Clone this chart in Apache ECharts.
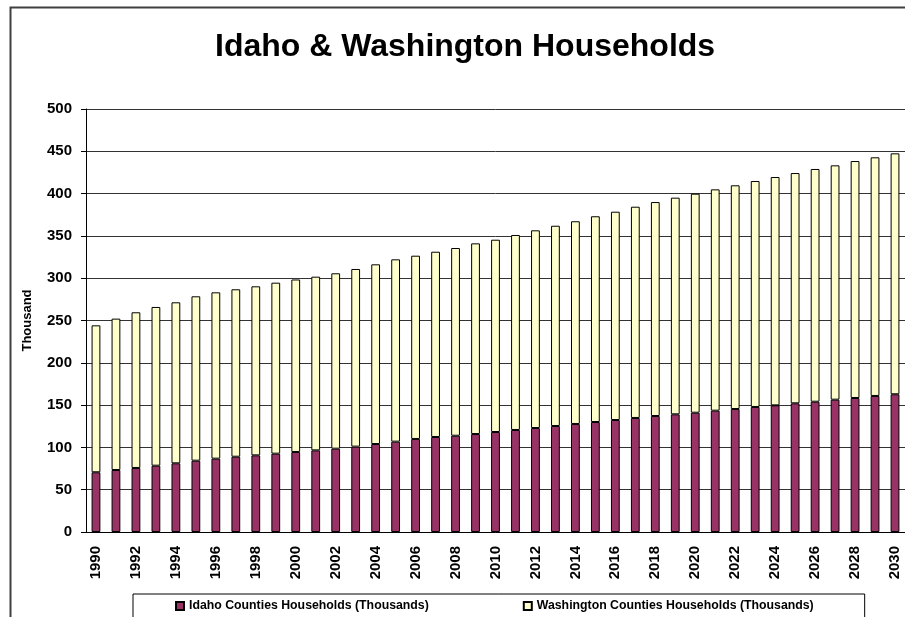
<!DOCTYPE html>
<html>
<head>
<meta charset="utf-8">
<title>Idaho & Washington Households</title>
<script src="https://cdn.jsdelivr.net/npm/echarts@6/dist/echarts.min.js"></script>
<style>
  html, body { margin: 0; padding: 0; background: #fff; }
  #main { width: 905px; height: 617px; }
</style>
</head>
<body>
<div id="main"></div>
<script>
// years on the x axis
const years = [];
for (let y = 1990; y <= 2030; y++) years.push(String(y));

// Idaho counties households, thousands
const idaho = [
  70.6, 73.3, 75.7, 78.4, 81.2, 84.3, 86.7, 89.0, 90.6, 92.6,
  94.6, 96.5, 98.5, 100.9, 104.0, 106.8, 110.0, 112.3, 113.8, 115.8,
  118.2, 120.6, 122.9, 125.3, 127.7, 130.0, 132.4, 134.8, 137.1, 139.1,
  141.0, 143.4, 145.4, 147.8, 149.7, 152.1, 154.0, 156.4, 158.4, 160.8,
  162.8
];

// Washington counties households, thousands (stacked on top of Idaho)
const washington = [
  173.7, 178.9, 184.0, 187.6, 190.3, 194.3, 196.6, 197.9, 199.8, 202.1,
  203.9, 205.3, 207.3, 210.0, 212.4, 215.5, 216.6, 219.0, 221.9, 225.4,
  227.3, 230.5, 233.7, 236.7, 239.6, 243.2, 246.2, 249.7, 252.9, 256.1,
  258.9, 261.6, 264.4, 267.1, 269.9, 272.2, 275.1, 277.0, 280.1, 282.1,
  284.8
];

const font = '"Liberation Sans", Arial, sans-serif';

const chart = echarts.init(document.getElementById('main'));

const option = {
  backgroundColor: '#fff',
  animation: false,
  textStyle: { fontFamily: font },
  title: {
    text: 'Idaho & Washington Households',
    left: 215,
    top: 31,
    padding: 0,
    textStyle: { fontFamily: font, fontSize: 32, fontWeight: 'bold', color: '#000' }
  },
  graphic: [
    {
      // outer chart frame
      type: 'rect',
      left: 8, top: 5,
      shape: { width: 1000, height: 700 },
      style: { fill: null, stroke: '#404040', lineWidth: 2 },
      silent: true
    }
  ],
  legend: {
    left: 133,
    top: 594,
    padding: [6, 51, 8, 42],
    icon: 'rect',
    itemWidth: 8,
    itemHeight: 8,
    itemGap: 94,
    borderColor: '#000',
    borderWidth: 1,
    textStyle: { fontFamily: font, fontSize: 12.3, fontWeight: 'bold', color: '#000' },
    data: [
      'Idaho Counties Households (Thousands)',
      'Washington Counties Households (Thousands)'
    ]
  },
  grid: { left: 86, right: -1, top: 109, bottom: 85 },
  xAxis: {
    type: 'category',
    data: years,
    axisLine: { lineStyle: { color: '#000', width: 1 } },
    axisTick: { interval: 0, length: 5, lineStyle: { color: '#000' } },
    axisLabel: {
      interval: 1,
      rotate: 90,
      margin: 14,
      fontFamily: font,
      fontSize: 15,
      fontWeight: 'bold',
      color: '#000'
    }
  },
  yAxis: {
    type: 'value',
    min: 0,
    max: 500,
    interval: 50,
    name: 'Thousand',
    nameLocation: 'middle',
    nameGap: 52,
    nameTextStyle: { fontFamily: font, fontSize: 13, fontWeight: 'bold', color: '#000' },
    axisLine: { show: true, lineStyle: { color: '#000', width: 1 } },
    axisTick: { show: true, length: 5, lineStyle: { color: '#000' } },
    axisLabel: { margin: 14, fontFamily: font, fontSize: 15, fontWeight: 'bold', color: '#000' },
    splitLine: { show: true, lineStyle: { color: '#333', width: 1 } }
  },
  series: [
    {
      name: 'Idaho Counties Households (Thousands)',
      type: 'bar',
      stack: 'households',
      barWidth: '44%',
      data: idaho,
      itemStyle: { color: '#993366', borderColor: '#000', borderWidth: 1 }
    },
    {
      name: 'Washington Counties Households (Thousands)',
      type: 'bar',
      stack: 'households',
      barWidth: '44%',
      data: washington,
      itemStyle: { color: '#FFFFCC', borderColor: '#000', borderWidth: 1 }
    }
  ]
};

chart.setOption(option);
</script>
</body>
</html>
